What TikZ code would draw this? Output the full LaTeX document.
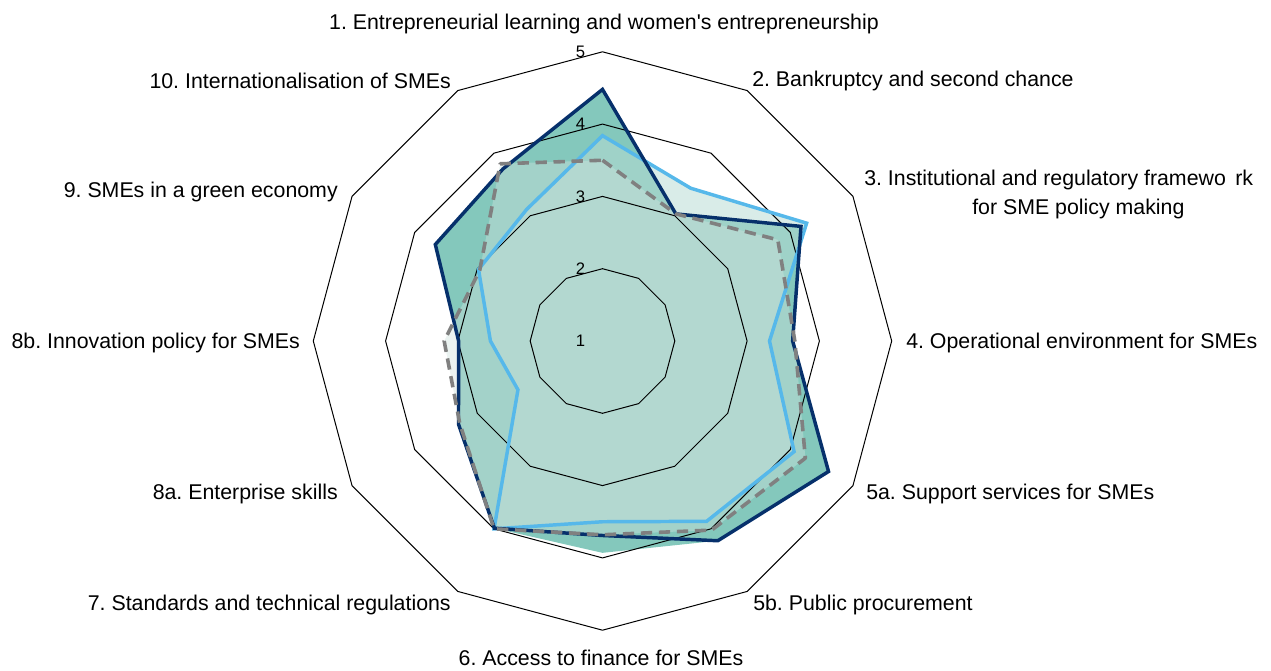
\documentclass[tikz,border=0pt]{standalone}
\usepackage{fontspec}
\setmainfont{Liberation Sans}
\definecolor{navyline}{HTML}{06306B}
\definecolor{lightline}{HTML}{56B8EA}
\definecolor{grayline}{HTML}{808080}
\definecolor{navyfillc}{RGB}{132,200,188}
\definecolor{lightfillc}{RGB}{183,219,211}
\definecolor{grayfillc}{RGB}{207,226,221}
\frenchspacing
\begin{document}
\begin{tikzpicture}[x=0.75pt,y=0.75pt,
  grid/.style={draw=black,line width=0.75pt,line join=miter},
  navyarea/.style={fill=navyfillc},
  lightarea/.style={fill=lightfillc,fill opacity=0.53},
  grayarea/.style={fill=grayfillc,fill opacity=0.42},
  navyser/.style={draw=navyline,line width=2.6pt,line join=miter},
  lightser/.style={draw=lightline,line width=2.6pt,line join=miter},
  grayser/.style={draw=grayline,line width=2.7pt,dash pattern=on 8.5pt off 5pt,line join=round},
  lvl/.style={font=\fontsize{12.5}{14}\selectfont,inner sep=0pt,anchor=east},
  cat/.style={font=\fontsize{16}{19}\selectfont,inner sep=0pt}]
\useasboundingbox (-602.5,-330) rectangle (668.5,341);
\def\u{72.3}
% series coordinates (axes: 1,2,3,4,5a,5b,6,7,8a,8b,9,10)
\foreach \v [count=\i from 0] in {4.48,3.03,4.17,3.63,4.61,4.19,3.69,3.99,3.30,2.99,3.67,3.75}
  {\coordinate (N\i) at ({90-30*\i}:{(\v-1)*\u});}
\foreach \v [count=\i from 0] in {4.48,3.03,4.17,3.63,4.61,4.19,3.93,3.99,3.30,2.99,3.67,3.75}
  {\coordinate (F\i) at ({90-30*\i}:{(\v-1)*\u});}
\foreach \v [count=\i from 0] in {3.84,3.44,4.26,3.31,4.06,3.88,3.50,4.00,2.35,2.55,2.98,3.10}
  {\coordinate (L\i) at ({90-30*\i}:{(\v-1)*\u});}
\foreach \v [count=\i from 0] in {3.50,3.03,3.80,3.66,4.24,4.02,3.68,4.00,3.28,3.19,2.96,3.83}
  {\coordinate (G\i) at ({90-30*\i}:{(\v-1)*\u});}
% areas
\path[navyarea] (F0) -- (F1) -- (F2) -- (F3) -- (F4) -- (F5) -- (F6) -- (F7) -- (F8) -- (F9) -- (F10) -- (F11) -- cycle;
\path[lightarea] (L0) -- (L1) -- (L2) -- (L3) -- (L4) -- (L5) -- (L6) -- (L7) -- (L8) -- (L9) -- (L10) -- (L11) -- cycle;
\path[grayarea] (G0) -- (G1) -- (G2) -- (G3) -- (G4) -- (G5) -- (G6) -- (G7) -- (G8) -- (G9) -- (G10) -- (G11) -- cycle;
% grid polygons
\foreach \l in {2,3,4,5}{
  \draw[grid] (90:{(\l-1)*\u}) \foreach \k in {1,...,11}{ -- ({90-30*\k}:{(\l-1)*\u}) } -- cycle;
}
% level labels
\foreach \l in {1,...,5}{
  \node[lvl] (lv\l) at (-17,{(\l-1)*\u}) {\l};
}
% series lines
\draw[lightser] (L0) -- (L1) -- (L2) -- (L3) -- (L4) -- (L5) -- (L6) -- (L7) -- (L8) -- (L9) -- (L10) -- (L11) -- cycle;
\draw[navyser] (N0) -- (N1) -- (N2) -- (N3) -- (N4) -- (N5) -- (N6) -- (N7) -- (N8) -- (N9) -- (N10) -- (N11) -- cycle;
\draw[grayser] (G0) -- (G1) -- (G2) -- (G3) -- (G4) -- (G5) -- (G6) -- (G7) -- (G8) -- (G9) -- (G10) -- (G11) -- cycle;
% category labels
\node[cat] (lab1) at (1.5,317) {1. Entrepreneurial learning and women\textquotesingle s entrepreneurship};
\node[cat,anchor=west] (lab2) at (149.5,260) {2. Bankruptcy and second chance};
\node[cat,anchor=west] (lab3a) at (261.5,161) {3. Institutional and regulatory framewo\ \,rk};
\node[cat,anchor=west] (lab3b) at (369.5,132) {for SME policy making};
\node[cat,anchor=west] (lab4) at (303.5,-2) {4. Operational environment for SMEs};
\node[cat,anchor=west] (lab5a) at (263.5,-153) {5a. Support services for SMEs};
\node[cat,anchor=west] (lab5b) at (150.5,-264) {5b. Public procurement};
\node[cat] (lab6) at (-1.5,-317) {6. Access to finance for SMEs};
\node[cat,anchor=east] (lab7) at (-151.5,-264) {7. Standards and technical regulations};
\node[cat,anchor=east] (lab8a) at (-264.5,-153) {8a. Enterprise skills};
\node[cat,anchor=east] (lab8b) at (-302.5,-2) {8b. Innovation policy for SMEs};
\node[cat,anchor=east] (lab9) at (-264.5,149) {9. SMEs in a green economy};
\node[cat,anchor=east] (lab10) at (-151.5,260) {10. Internationalisation of SMEs};
\end{tikzpicture}
\end{document}
